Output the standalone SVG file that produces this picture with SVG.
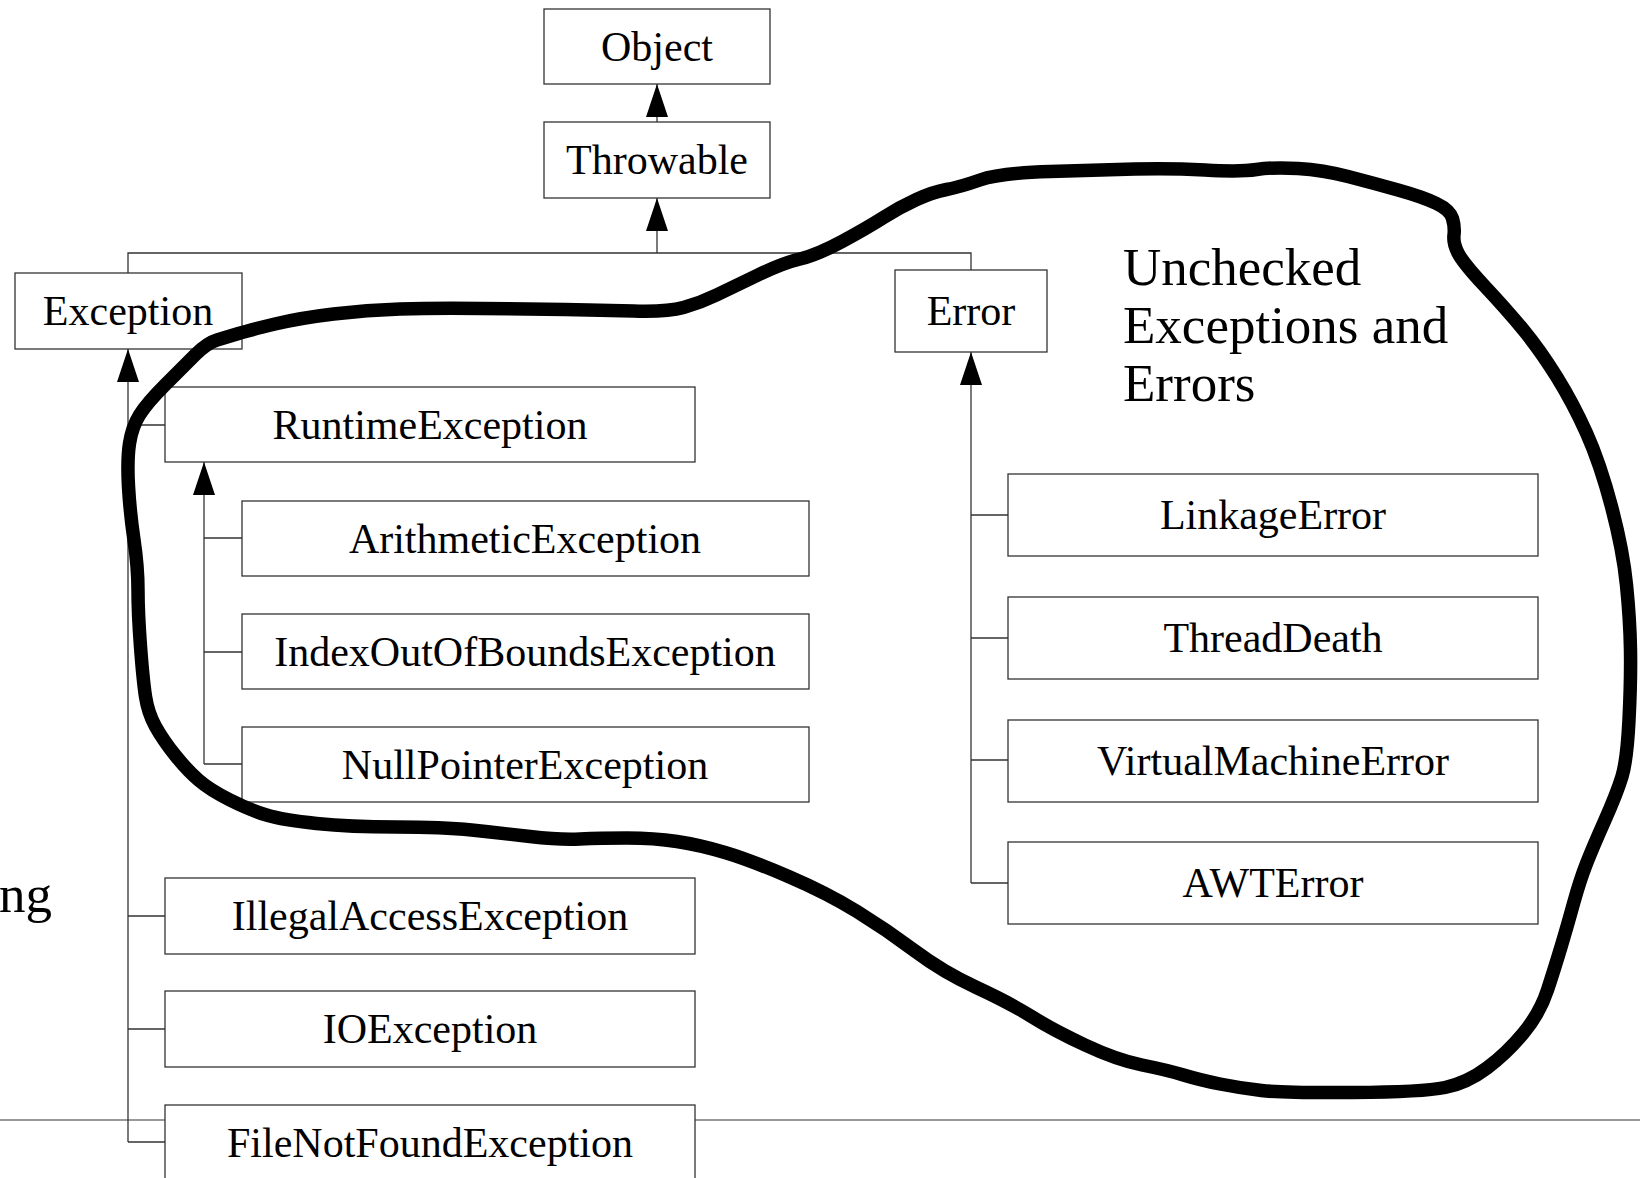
<svg xmlns="http://www.w3.org/2000/svg" width="1640" height="1178" viewBox="0 0 1640 1178">
<defs>
<style>
.box{fill:#fff;stroke:#333;stroke-width:1.3}
.lbl{font-family:"Liberation Serif","Times New Roman",serif;font-size:42px;fill:#000;text-anchor:middle}
.big{font-family:"Liberation Serif","Times New Roman",serif;font-size:53px;fill:#000}
.conn{fill:none;stroke:#333;stroke-width:1.3}
.arr{marker-end:url(#head)}
.blob{fill:none;stroke:#000;stroke-width:13.5;stroke-linejoin:round;stroke-linecap:round}
</style>
<marker id="head" viewBox="0 0 33 22" refX="33" refY="11" markerWidth="33" markerHeight="22" markerUnits="userSpaceOnUse" orient="auto">
<path d="M0,0 L33,11 L0,22 Z" fill="#000"/>
</marker>
</defs>
<rect width="1640" height="1178" fill="#fff"/>
<line x1="0" y1="1120" x2="1640" y2="1120" stroke="#777" stroke-width="1.5"/>
<g id="connectors">
<path class="conn arr" d="M657,122 V84"/>
<path class="conn" d="M128,273 V253 H971 V270"/>
<path class="conn arr" d="M657,253 V198"/>
<path class="conn arr" d="M128,1142 V349"/>
<path class="conn" d="M128,425 H165 M128,916 H165 M128,1029 H165 M128,1142 H165"/>
<path class="conn arr" d="M204,764 V462"/>
<path class="conn" d="M204,538 H242 M204,652 H242 M204,764 H242"/>
<path class="conn arr" d="M971,883 V352"/>
<path class="conn" d="M971,515 H1008 M971,638 H1008 M971,760 H1008 M971,883 H1008"/>
</g>
<g id="object"><rect class="box" x="544" y="9" width="226" height="75"/><text class="lbl" x="657" y="60.5">Object</text></g>
<g id="throwable"><rect class="box" x="544" y="122" width="226" height="76"/><text class="lbl" x="657" y="174">Throwable</text></g>
<g id="exception"><rect class="box" x="15" y="273" width="227" height="76"/><text class="lbl" x="128" y="325">Exception</text></g>
<g id="error"><rect class="box" x="895" y="270" width="152" height="82"/><text class="lbl" x="971" y="325">Error</text></g>
<g id="runtimeexception"><rect class="box" x="165" y="387" width="530" height="75"/><text class="lbl" x="430" y="438.5">RuntimeException</text></g>
<g id="arithmeticexception"><rect class="box" x="242" y="501" width="567" height="75"/><text class="lbl" x="525" y="552.5">ArithmeticException</text></g>
<g id="indexoutofboundsexception"><rect class="box" x="242" y="614" width="567" height="75"/><text class="lbl" x="525" y="665.5">IndexOutOfBoundsException</text></g>
<g id="nullpointerexception"><rect class="box" x="242" y="727" width="567" height="75"/><text class="lbl" x="525" y="778.5">NullPointerException</text></g>
<g id="illegalaccessexception"><rect class="box" x="165" y="878" width="530" height="76"/><text class="lbl" x="430" y="930">IllegalAccessException</text></g>
<g id="ioexception"><rect class="box" x="165" y="991" width="530" height="76"/><text class="lbl" x="430" y="1043">IOException</text></g>
<g id="filenotfoundexception"><rect class="box" x="165" y="1105" width="530" height="80"/><text class="lbl" x="430" y="1157">FileNotFoundException</text></g>
<g id="linkageerror"><rect class="box" x="1008" y="474" width="530" height="82"/><text class="lbl" x="1273" y="529">LinkageError</text></g>
<g id="threaddeath"><rect class="box" x="1008" y="597" width="530" height="82"/><text class="lbl" x="1273" y="652">ThreadDeath</text></g>
<g id="virtualmachineerror"><rect class="box" x="1008" y="720" width="530" height="82"/><text class="lbl" x="1273" y="775">VirtualMachineError</text></g>
<g id="awterror"><rect class="box" x="1008" y="842" width="530" height="82"/><text class="lbl" x="1273" y="897">AWTError</text></g>
<g id="annotation">
<text class="big" x="1123" y="285">Unchecked</text>
<text class="big" x="1123" y="343">Exceptions and</text>
<text class="big" x="1123" y="401">Errors</text>
<text class="big" x="52" y="912" text-anchor="end">ng</text>
</g>
<path id="blob" class="blob" d="M140.5,646.5 Q138,613 138,590 Q138,567 134,540 Q130,513 128.5,486.5 Q127,460 129.5,443.5 Q132,427 139.5,415 Q147,403 165,385 Q183,367 195,355 Q207,343 217,340 Q227,337 238.5,333.5 Q250,330 275,324 Q300,318 333.5,314 Q367,310 400,309 Q433,308 481.5,308.5 Q530,309 565,309.5 Q600,310 633.5,311 Q667,312 683.5,307.5 Q700,303 716.5,295 Q733,287 758,275 Q783,263 800,259 Q817,255 842,241.5 Q867,228 883.5,217.5 Q900,207 916.5,199.5 Q933,192 946.5,189.5 Q960,187 980,180 Q1000,173 1050,171.5 Q1100,170 1135,169 Q1170,168 1205,170 Q1240,172 1256.5,169.5 Q1273,167 1298,168.5 Q1323,170 1348,176.5 Q1373,183 1398,190 Q1423,197 1436.5,203.5 Q1450,210 1452.5,218.5 Q1455,227 1454,235 Q1453,243 1458,253 Q1463,263 1485,286.5 Q1507,310 1523.5,330 Q1540,350 1556.5,376.5 Q1573,403 1586.5,433 Q1600,463 1611.5,506.5 Q1623,550 1626.5,585 Q1630,620 1630.5,650 Q1631,680 1629,720 Q1627,760 1622,776.5 Q1617,793 1605,820 Q1593,847 1586.5,863.5 Q1580,880 1573.5,903.5 Q1567,927 1561,947 Q1555,967 1547.5,990 Q1540,1013 1523.5,1033 Q1507,1053 1487,1068 Q1467,1083 1445,1087.5 Q1423,1092 1353,1092.5 Q1283,1093 1261.5,1090.5 Q1240,1088 1220,1084 Q1200,1080 1183.5,1075 Q1167,1070 1142,1065 Q1117,1060 1085,1045 Q1053,1030 1031.5,1016.5 Q1010,1003 976.5,987.5 Q943,972 915,951 Q887,930 857,911.5 Q827,893 788.5,876.5 Q750,860 725,852.5 Q700,845 677,841.5 Q654,838 627,838 Q600,838 580,839 Q560,840 530,836.5 Q500,833 471.5,830 Q443,827 396.5,827 Q350,827 316.5,823.5 Q283,820 266.5,815 Q250,810 230,800 Q210,790 198.5,780 Q187,770 175,755 Q163,740 155.5,726.5 Q148,713 145.5,696.5 Q143,680 140.5,646.5 Z"/>
</svg>
